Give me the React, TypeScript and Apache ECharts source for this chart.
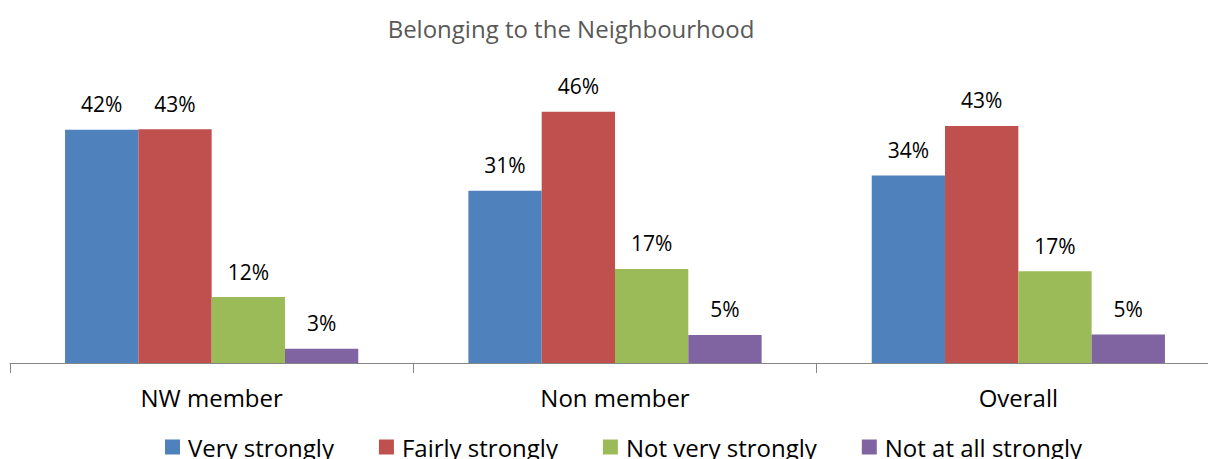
import React, { useEffect, useRef } from "react";
import * as echarts from "echarts";

const categories = ["NW member", "Non member", "Overall"];
const seriesNames = ["Very strongly", "Fairly strongly", "Not very strongly", "Not at all strongly"];
const veryStrongly = [42.4, 31.3, 34.1];
const fairlyStrongly = [42.5, 45.7, 43.1];
const notVeryStrongly = [12.0, 17.1, 16.7];
const notAtAllStrongly = [2.6, 5.1, 5.2];
const colors = ["#4F81BD", "#C0504D", "#9BBB59", "#8064A2"];
const titleText = "Belonging to the Neighbourhood";

const FONT = "Open Sans";

export default function App() {
  const ref = useRef<HTMLDivElement>(null);
  useEffect(() => {
    if (!ref.current) return;
    const chart = echarts.init(ref.current, null, { renderer: "svg" });
    const values = [veryStrongly, fairlyStrongly, notVeryStrongly, notAtAllStrongly];
    chart.setOption({
      animation: false,
      backgroundColor: "#ffffff",
      title: {
        text: titleText,
        left: 566,
        textAlign: "center",
        top: 11,
        textStyle: { fontFamily: FONT, fontSize: 24, fontWeight: "normal", color: "#595959" },
      },
      legend: {
        data: seriesNames,
        left: 160,
        top: 430,
        icon: "rect",
        itemWidth: 15,
        itemHeight: 15,
        itemGap: 45,
        textStyle: { fontFamily: FONT, fontSize: 24, color: "#000000", padding: [0, 0, 0, 3] },
      },
      grid: { left: 10, top: 88, right: 20, bottom: 96, containLabel: false },
      xAxis: {
        type: "category",
        data: categories,
        axisLine: { lineStyle: { color: "#868686", width: 1 } },
        axisTick: { show: true, length: 10, lineStyle: { color: "#868686" } },
        axisLabel: { fontFamily: FONT, fontSize: 24, color: "#000000", margin: 22 },
      },
      yAxis: {
        type: "value",
        min: 0,
        max: 50,
        show: false,
        splitLine: { show: false },
      },
      series: seriesNames.map((name, i) => ({
        name,
        type: "bar",
        data: values[i],
        barGap: "0%",
        barCategoryGap: "27.3%",
        itemStyle: { color: colors[i] },
        label: {
          show: true,
          position: "top",
          distance: 15,
          fontFamily: FONT,
          fontSize: 21,
          color: "#000000",
          formatter: (p: any) => Math.round(p.value) + "%",
        },
      })),
    });
    return () => chart.dispose();
  }, []);
  return (
    <div style={{ position: "absolute", left: 0, top: 0, width: 1208, height: 459, overflow: "hidden" }}>
      <div ref={ref} style={{ width: 1240, height: 459 }} />
    </div>
  );
}
